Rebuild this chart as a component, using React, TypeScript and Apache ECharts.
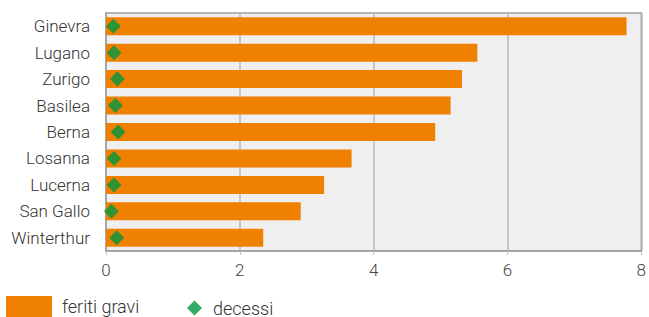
import React, { useEffect, useRef } from "react";
import * as echarts from "echarts";

const categories = ["Ginevra", "Lugano", "Zurigo", "Basilea", "Berna", "Losanna", "Lucerna", "San Gallo", "Winterthur"];
const feritiGravi = [7.78, 5.55, 5.32, 5.15, 4.92, 3.67, 3.26, 2.91, 2.35];
const decessi = [0.11, 0.12, 0.17, 0.14, 0.18, 0.12, 0.12, 0.08, 0.16];
const xTicks = [0, 2, 4, 6, 8];

const FONT = "Roboto";

export default function App() {
  const ref = useRef<HTMLDivElement>(null);
  useEffect(() => {
    const chart = echarts.init(ref.current!, null, { renderer: "svg" });
    chart.setOption({
      animation: false,
      grid: {
        left: 106,
        right: 6,
        top: 13,
        bottom: 66,
        show: true,
        backgroundColor: "#efefef",
        borderColor: "#a0a0a0",
        borderWidth: 1.5,
      },
      legend: [
        {
          data: [{ name: "feriti gravi", icon: "rect" }],
          left: 6,
          top: 296,
          itemWidth: 46,
          itemHeight: 21,
          textStyle: { fontFamily: FONT, fontSize: 18, lineHeight: 18, fontWeight: 300, color: "#333", padding: [0, 0, 0, 5] },
          padding: 0,
        },
        {
          data: [{ name: "decessi", icon: "diamond" }],
          left: 187,
          top: 299,
          itemWidth: 15,
          itemHeight: 15,
          textStyle: { fontFamily: FONT, fontSize: 18, lineHeight: 18, fontWeight: 300, color: "#333", padding: [0, 0, 0, 6] },
          padding: 0,
        },
      ],
      xAxis: {
        type: "value",
        min: xTicks[0],
        max: xTicks[xTicks.length - 1],
        interval: 2,
        axisLine: { show: true, lineStyle: { color: "#a0a0a0", width: 1.5 } },
        axisTick: { show: true, length: 4, lineStyle: { color: "#c0c0c0" } },
        axisLabel: { fontFamily: FONT, fontSize: 17, fontWeight: 300, color: "#444", margin: 10 },
        splitLine: { show: true, lineStyle: { color: "#b8b8b8", width: 1.5 } },
      },
      yAxis: {
        type: "category",
        data: categories,
        inverse: true,
        axisLine: { show: true, lineStyle: { color: "#a0a0a0", width: 1.5 } },
        axisTick: { show: false },
        axisLabel: { fontFamily: FONT, fontSize: 17, fontWeight: 300, color: "#333", margin: 16 },
      },
      series: [
        {
          name: "feriti gravi",
          type: "bar",
          data: feritiGravi,
          barWidth: 18,
          itemStyle: { color: "#f08000" },
        },
        {
          name: "decessi",
          type: "scatter",
          data: decessi,
          symbol: "diamond",
          symbolSize: 15,
          itemStyle: { color: "#00963f" },
          z: 5,
        },
      ],
    });
    return () => chart.dispose();
  }, []);
  return <div ref={ref} style={{ width: 649, height: 317, position: "absolute", left: 0, top: 0 }} />;
}
